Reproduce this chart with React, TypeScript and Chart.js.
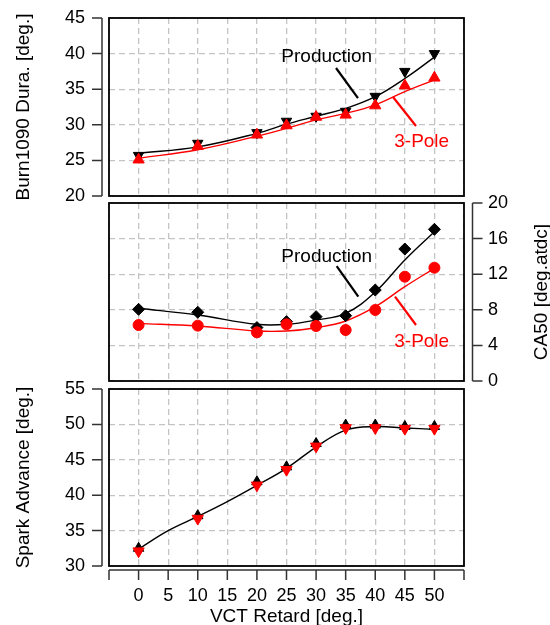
import React, { useEffect, useRef } from "react";
import { Chart, registerables } from "chart.js";

Chart.register(...registerables);

const FONT = "'Liberation Sans', Arial, Helvetica, sans-serif";
const GRID = "#c4c4c4";
const RED = "#ff0000";
const BLACK = "#000000";

// ---------- data ----------
const vctRetard = [0, 10, 20, 25, 30, 35, 40, 45, 50];

// Panel 1: Burn1090 duration [deg.]
const burnProduction = [25.7, 27.4, 28.9, 30.5, 31.2, 31.9, 34.0, 37.5, 40.0];
const burnThreePole = [25.1, 27.0, 28.6, 29.9, 31.1, 31.4, 32.7, 35.5, 36.6];
const burnProductionFit = [26.0, 26.9, 28.8, 30.1, 31.2, 32.3, 33.95, 36.5, 39.5];
const burnThreePoleFit = [25.3, 26.5, 28.4, 29.5, 30.7, 31.6, 32.8, 34.65, 36.3];

// Panel 2: CA50 [deg.atdc]
const ca50Production = [8.05, 7.72, 6.0, 6.67, 7.23, 7.34, 10.22, 14.83, 17.04];
const ca50ThreePole = [6.29, 6.22, 5.47, 6.37, 6.18, 5.73, 7.98, 11.72, 12.73];
const ca50ProductionFit = [8.17, 7.42, 6.37, 6.37, 6.85, 7.6, 10.0, 13.6, 16.78];
const ca50ThreePoleFit = [6.48, 6.18, 5.62, 5.62, 5.99, 6.74, 8.35, 10.6, 12.66];

// Panel 3: Spark advance [deg.]
const sparkProduction = [32.5, 37.1, 41.9, 44.0, 47.3, 49.9, 49.9, 49.7, 49.7];
const sparkThreePole = [32.1, 36.7, 41.4, 43.6, 46.9, 49.5, 49.5, 49.4, 49.4];
const sparkFitX = [0, 5, 10, 15, 20, 25, 30, 35, 40, 45, 50];
const sparkFit = [32.4, 35.0, 37.0, 39.1, 41.4, 43.8, 46.8, 49.2, 49.7, 49.5, 49.3];

// axis ranges / ticks
const xRange = { min: -5, max: 55, step: 5, labelMin: 0, labelMax: 50 };
const burnRange = { min: 20, max: 45, step: 5 };
const ca50Range = { min: 0, max: 20, step: 4 };
const sparkRange = { min: 30, max: 55, step: 5 };

const pts = (xs: number[], ys: number[]) => xs.map((x, i) => ({ x, y: ys[i] }));

const W = 550;
const H = 625;

// ---------- decoration plugin ----------
const panelDeco = {
  id: "panelDeco",
  afterDatasetsDraw(chart: any, _args: any, opts: any) {
    const { ctx, chartArea: a, scales } = chart;
    const xs = scales.x;
    const ys = scales.y;
    ctx.save();
    // frame
    ctx.strokeStyle = "#000";
    ctx.lineWidth = 1.8;
    ctx.strokeRect(a.left, a.top, a.right - a.left, a.bottom - a.top);
    // offset axes
    ctx.strokeStyle = "#333";
    ctx.lineWidth = 1.5;
    for (const side of opts.axes || []) {
      ctx.beginPath();
      if (side === "left" || side === "right") {
        const x0 = side === "left" ? a.left - 7 : a.right + 8.5;
        const dir = side === "left" ? -1 : 1;
        ctx.moveTo(x0, ys.getPixelForValue(ys.max));
        ctx.lineTo(x0, ys.getPixelForValue(ys.min));
        for (const t of ys.ticks) {
          const p = ys.getPixelForValue(t.value);
          ctx.moveTo(x0, p);
          ctx.lineTo(x0 + dir * 10, p);
        }
      } else {
        const y0 = a.bottom + 4;
        ctx.moveTo(xs.getPixelForValue(xs.min), y0);
        ctx.lineTo(xs.getPixelForValue(xs.max), y0);
        for (const t of xs.ticks) {
          const p = xs.getPixelForValue(t.value);
          ctx.moveTo(p, y0);
          ctx.lineTo(p, y0 + 10);
        }
      }
      ctx.stroke();
    }
    // leader lines
    ctx.lineWidth = 2.2;
    for (const l of opts.leaders || []) {
      ctx.strokeStyle = l.color;
      ctx.beginPath();
      ctx.moveTo(xs.getPixelForValue(l.x1), ys.getPixelForValue(l.y1));
      ctx.lineTo(xs.getPixelForValue(l.x2), ys.getPixelForValue(l.y2));
      ctx.stroke();
    }
    // notes
    ctx.font = `19px ${FONT}`;
    ctx.textAlign = "center";
    ctx.textBaseline = "middle";
    for (const n of opts.notes || []) {
      ctx.fillStyle = n.color;
      ctx.fillText(n.text, xs.getPixelForValue(n.x), ys.getPixelForValue(n.y));
    }
    // rotated right-side title (reads bottom to top)
    if (opts.sideTitle) {
      ctx.translate(opts.sideTitle.x, (a.top + a.bottom) / 2);
      ctx.rotate(-Math.PI / 2);
      ctx.fillStyle = "#000";
      ctx.fillText(opts.sideTitle.text, 0, 0);
    }
    ctx.restore();
  },
};

// ---------- axis builders ----------
function xAxis(withLabels: boolean, height: number) {
  return {
    type: "linear",
    position: "bottom",
    min: xRange.min,
    max: xRange.max,
    grid: { color: GRID, lineWidth: 1.3, drawTicks: false },
    border: { display: false, dash: [6, 4] },
    ticks: {
      display: withLabels,
      stepSize: xRange.step,
      autoSkip: false,
      maxRotation: 0,
      minRotation: 0,
      padding: 19,
      color: "#000",
      font: { family: FONT, size: 18 },
      callback: (v: any) => (v < xRange.labelMin || v > xRange.labelMax ? "" : String(v)),
    },
    title: withLabels
      ? {
          display: true,
          text: "VCT Retard [deg.]",
          color: "#000",
          font: { family: FONT, size: 19, lineHeight: "16px" },
          padding: { top: 0, bottom: 0 },
        }
      : { display: false },
    afterFit: (s: any) => {
      s.height = height;
      s.paddingLeft = 0;
      s.paddingRight = 0;
    },
  };
}

function yAxis(range: any, position: string, title: string | null) {
  return {
    type: "linear",
    position,
    min: range.min,
    max: range.max,
    grid: { color: GRID, lineWidth: 1.3, drawTicks: false },
    border: { display: false, dash: [6, 4] },
    ticks: {
      stepSize: range.step,
      autoSkip: false,
      padding: 24,
      color: "#000",
      font: { family: FONT, size: 18 },
    },
    title: title
      ? {
          display: true,
          text: title,
          color: "#000",
          font: { family: FONT, size: 19, lineHeight: "19px" },
          padding: { top: 14.5, bottom: 0 },
        }
      : { display: false },
    afterFit: (s: any) => {
      s.width = position === "left" ? 109 : 86;
      s.paddingTop = 0;
      s.paddingBottom = 0;
    },
  };
}

function markers(data: any, color: string, style: string, radius: number, rotation: number, order: number) {
  return {
    data,
    showLine: false,
    pointStyle: style,
    pointRadius: radius,
    pointRotation: rotation,
    backgroundColor: color,
    borderColor: color,
    pointBorderWidth: 1,
    order,
  };
}

function fitLine(data: any, color: string, order: number) {
  return {
    data,
    showLine: true,
    pointRadius: 0,
    borderColor: color,
    backgroundColor: color,
    borderWidth: 1.4,
    tension: 0.4,
    fill: false,
    order,
  };
}

const common = {
  animation: false,
  responsive: false,
  events: [],
  plugins: { legend: { display: false }, tooltip: { enabled: false } },
};

// chart areas in page coordinates: panel1 18..196, panel2 203..381, panel3 389..566
function panel1Config(): any {
  return {
    type: "scatter",
    data: {
      datasets: [
        markers(pts(vctRetard, burnThreePole), RED, "triangle", 6.5, 0, 0),
        markers(pts(vctRetard, burnProduction), BLACK, "triangle", 6, 180, 1),
        fitLine(pts(vctRetard, burnThreePoleFit), RED, 2),
        fitLine(pts(vctRetard, burnProductionFit), BLACK, 3),
      ],
    },
    options: {
      ...common,
      layout: { padding: { top: 18, bottom: H - 196, left: 0, right: 86 }, autoPadding: false },
      scales: { x: xAxis(false, 0), y: yAxis(burnRange, "left", "Burn1090 Dura. [deg.]") },
      plugins: {
        ...common.plugins,
        panelDeco: {
          axes: ["left"],
          leaders: [
            { x1: 33.37, y1: 37.98, x2: 37.08, y2: 33.76, color: BLACK },
            { x1: 43.0, y1: 33.9, x2: 46.89, y2: 29.83, color: RED },
          ],
          notes: [
            { text: "Production", x: 31.8, y: 39.56, color: BLACK },
            { text: "3-Pole", x: 47.85, y: 27.63, color: RED },
          ],
        },
      },
    },
    plugins: [panelDeco],
  };
}

function panel2Config(): any {
  return {
    type: "scatter",
    data: {
      datasets: [
        markers(pts(vctRetard, ca50ThreePole), RED, "circle", 5.5, 0, 0),
        markers(pts(vctRetard, ca50Production), BLACK, "rectRot", 6, 0, 1),
        fitLine(pts(vctRetard, ca50ThreePoleFit), RED, 2),
        fitLine(pts(vctRetard, ca50ProductionFit), BLACK, 3),
      ],
    },
    options: {
      ...common,
      layout: { padding: { top: 203, bottom: H - 381, left: 109, right: 0 }, autoPadding: false },
      scales: { x: xAxis(false, 0), y: yAxis(ca50Range, "right", null) },
      plugins: {
        ...common.plugins,
        panelDeco: {
          axes: ["right"],
          leaders: [
            { x1: 33.48, y1: 12.92, x2: 37.14, y2: 9.47, color: BLACK },
            { x1: 43.34, y1: 9.47, x2: 46.89, y2: 6.29, color: RED },
          ],
          notes: [
            { text: "Production", x: 31.8, y: 13.97, color: BLACK },
            { text: "3-Pole", x: 47.85, y: 4.42, color: RED },
          ],
          sideTitle: { text: "CA50 [deg.atdc]", x: 542 },
        },
      },
    },
    plugins: [panelDeco],
  };
}

function panel3Config(): any {
  return {
    type: "scatter",
    data: {
      datasets: [
        markers(pts(vctRetard, sparkThreePole), RED, "triangle", 6.5, 180, 0),
        markers(pts(vctRetard, sparkProduction), BLACK, "triangle", 6, 0, 1),
        fitLine(pts(sparkFitX, sparkFit), BLACK, 2),
      ],
    },
    options: {
      ...common,
      layout: { padding: { top: 389, bottom: 0, left: 0, right: 86 }, autoPadding: false },
      scales: { x: xAxis(true, H - 566), y: yAxis(sparkRange, "left", "Spark Advance [deg.]") },
      plugins: {
        ...common.plugins,
        panelDeco: { axes: ["left", "bottom"] },
      },
    },
    plugins: [panelDeco],
  };
}

function Panel({ build }: { build: () => any }) {
  const ref = useRef<HTMLCanvasElement>(null);
  useEffect(() => {
    const chart = new Chart(ref.current as HTMLCanvasElement, build());
    return () => chart.destroy();
  }, []);
  return (
    <canvas
      ref={ref}
      width={W}
      height={H}
      style={{ position: "absolute", left: 0, top: 0, width: W, height: H, display: "block" }}
    />
  );
}

export default function App() {
  return (
    <div
      style={{
        position: "absolute",
        left: 0,
        top: 0,
        width: W,
        height: H,
        overflow: "hidden",
        background: "#fff",
      }}
    >
      <Panel build={panel1Config} />
      <Panel build={panel2Config} />
      <Panel build={panel3Config} />
    </div>
  );
}
